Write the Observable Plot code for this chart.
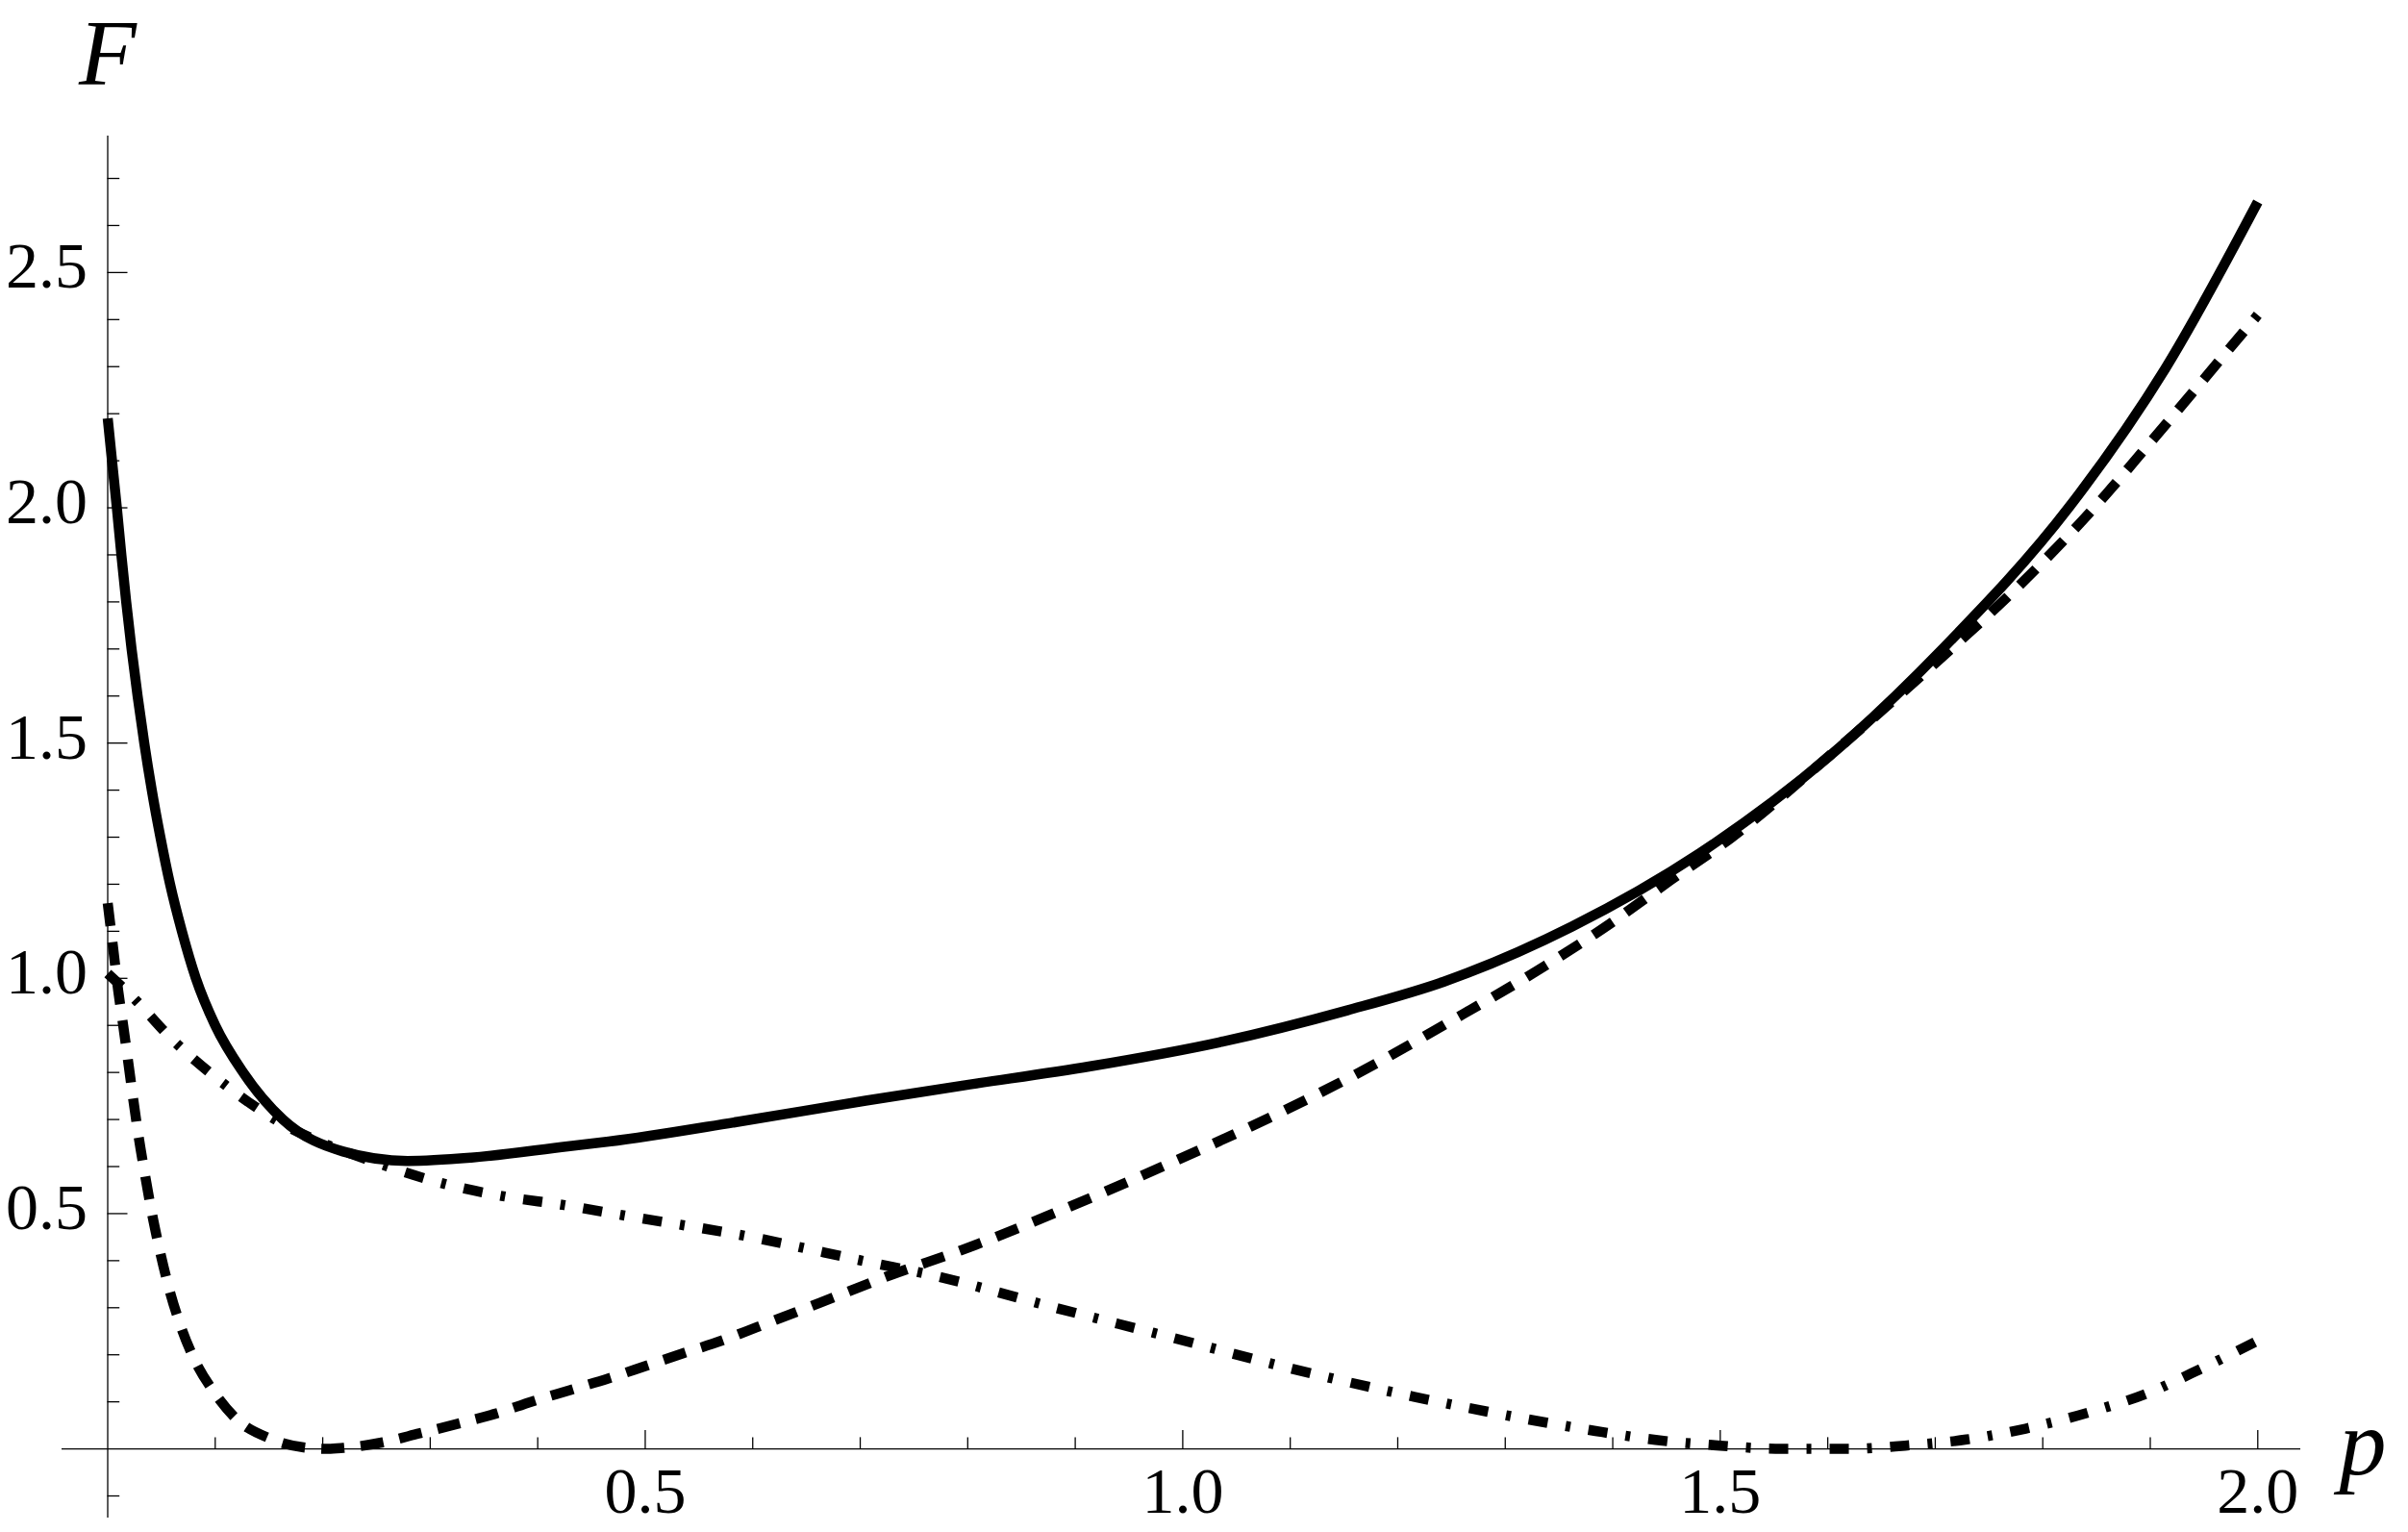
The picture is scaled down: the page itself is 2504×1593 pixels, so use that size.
<!DOCTYPE html>
<html>
<head>
<meta charset="utf-8">
<script src="https://cdn.jsdelivr.net/npm/d3@7"></script>
<script src="https://cdn.jsdelivr.net/npm/@observablehq/plot@0.6"></script>
<style>
  html, body { margin: 0; padding: 0; background: #fff; overflow: hidden; }
  #chart svg { display: block; }
</style>
</head>
<body>
<div id="chart"></div>
<script>
// ---- data ----
const solidP = [0, 0.004, 0.0085, 0.0127, 0.0172, 0.0222, 0.0278, 0.034, 0.041, 0.049, 0.058, 0.069, 0.082, 0.1, 0.126, 0.163, 0.219, 0.279, 0.338, 0.428, 0.466, 0.586, 0.705, 0.795, 0.914, 1.034, 1.153, 1.243, 1.362, 1.481, 1.601, 1.708, 1.825, 1.914, 2.0];
const solidF = [2.19, 2.10, 2.00, 1.90, 1.80, 1.70, 1.60, 1.50, 1.40, 1.30, 1.20, 1.10, 1.00, 0.90, 0.80, 0.70, 0.632, 0.612, 0.619, 0.643, 0.653, 0.695, 0.740, 0.772, 0.813, 0.864, 0.932, 0.993, 1.11, 1.266, 1.471, 1.703, 2.003, 2.296, 2.65];

const dashedP = [0, 0.005, 0.0097, 0.0147, 0.0192, 0.0238, 0.029, 0.0348, 0.0412, 0.0485, 0.0568, 0.0668, 0.08, 0.0985, 0.12, 0.151, 0.187, 0.205, 0.219, 0.256, 0.29, 0.325, 0.361, 0.395, 0.43, 0.466, 0.5, 0.535, 0.571, 0.603, 0.662, 0.729, 0.795, 0.893, 0.992, 1.089, 1.183, 1.244, 1.338, 1.398, 1.454, 1.511, 1.60, 1.70, 1.78, 1.854, 1.899, 2.0];
const dashedF = [1.16, 1.065, 0.975, 0.895, 0.82, 0.742, 0.66, 0.581, 0.50, 0.421, 0.343, 0.268, 0.193, 0.122, 0.063, 0.022, 0.002, 0.0, 0.002, 0.014, 0.033, 0.053, 0.075, 0.101, 0.125, 0.15, 0.176, 0.203, 0.23, 0.258, 0.31, 0.37, 0.423, 0.513, 0.611, 0.713, 0.823, 0.902, 1.028, 1.117, 1.209, 1.30, 1.47, 1.67, 1.839, 2.016, 2.136, 2.41];

const dashdotP = [0, 0.022, 0.061, 0.104, 0.15, 0.258, 0.312, 0.368, 0.425, 0.483, 0.597, 0.71, 0.765, 0.878, 0.991, 1.102, 1.215, 1.328, 1.384, 1.44, 1.50, 1.557, 1.62, 1.672, 1.729, 1.784, 1.842, 1.897, 1.947, 2.0];
const dashdotF = [1.01, 0.963, 0.868, 0.783, 0.708, 0.602, 0.564, 0.537, 0.518, 0.495, 0.451, 0.396, 0.37, 0.302, 0.236, 0.17, 0.111, 0.06, 0.038, 0.019, 0.007, 0.0, 0.0, 0.007, 0.02, 0.043, 0.077, 0.118, 0.17, 0.23];

const xMajorTicks = [0.5, 1.0, 1.5, 2.0];
const xMinorTicks = [0.1, 0.2, 0.3, 0.4, 0.6, 0.7, 0.8, 0.9, 1.1, 1.2, 1.3, 1.4, 1.6, 1.7, 1.8, 1.9];
const yMajorTicks = [0.5, 1.0, 1.5, 2.0, 2.5];
const yMinorTicks = [-0.1, 0.1, 0.2, 0.3, 0.4, 0.6, 0.7, 0.8, 0.9, 1.1, 1.2, 1.3, 1.4, 1.6, 1.7, 1.8, 1.9, 2.1, 2.2, 2.3, 2.4, 2.6, 2.7];
const xLabel = "p";
const yLabel = "F";

// ---- layout ----
const W = 2504, H = 1593;
const mL = 64, mR = 112, mT = 141, mB = 15;
const xDomain = [-0.0425, 2.04];
const yDomain = [-0.147, 2.79];
const xPx = (W - mL - mR) / (xDomain[1] - xDomain[0]);
const yPx = (H - mT - mB) / (yDomain[1] - yDomain[0]);

const zip = (P, F) => P.map((p, i) => ({p, F: F[i]}));
const solid = zip(solidP, solidF);
const dashed = zip(dashedP, dashedF);
const dashdot = zip(dashdotP, dashdotF);

const font = "Liberation Serif";
const axisW = 1.3;
const lineW = 10.5;

const chart = Plot.plot({
  width: W, height: H,
  marginLeft: mL, marginRight: mR, marginTop: mT, marginBottom: mB,
  x: {domain: xDomain, axis: null},
  y: {domain: yDomain, axis: null},
  style: {background: "#fff", overflow: "visible"},
  marks: [
    // axis lines through the origin
    Plot.ruleY([0], {stroke: "#000", strokeWidth: axisW}),
    Plot.ruleX([0], {stroke: "#000", strokeWidth: axisW}),
    // y ticks (pointing right)
    Plot.ruleY(yMajorTicks, {y: d => d, x1: 0, x2: 21 / xPx, stroke: "#000", strokeWidth: axisW}),
    Plot.ruleY(yMinorTicks, {y: d => d, x1: 0, x2: 12.7 / xPx, stroke: "#000", strokeWidth: axisW}),
    // x ticks (pointing up)
    Plot.ruleX(xMajorTicks, {x: d => d, y1: 0, y2: 19 / yPx, stroke: "#000", strokeWidth: axisW}),
    Plot.ruleX(xMinorTicks, {x: d => d, y1: 0, y2: 11.7 / yPx, stroke: "#000", strokeWidth: axisW}),
    // tick labels
    Plot.text(yMajorTicks, {x: 0, y: d => d, text: d => d.toFixed(1), textAnchor: "end", lineAnchor: "bottom", dx: -21, dy: 16, fontSize: 68, fontFamily: font, fill: "#000"}),
    Plot.text(xMajorTicks, {x: d => d, y: 0, text: d => d.toFixed(1), textAnchor: "middle", lineAnchor: "bottom", dy: 66, fontSize: 68, fontFamily: font, fill: "#000"}),
    // axis labels
    Plot.text([yLabel], {x: 0, frameAnchor: "top", text: d => d, textAnchor: "middle", lineAnchor: "bottom", dx: 0, dy: -54, fontSize: 98, fontStyle: "italic", fontFamily: font, fill: "#000"}),
    Plot.text([xLabel], {y: 0, frameAnchor: "right", text: d => d, textAnchor: "start", lineAnchor: "bottom", dx: 40, dy: 26, fontSize: 98, fontStyle: "italic", fontFamily: font, fill: "#000"}),
    // curves
    Plot.line(dashdot, {x: "p", y: "F", curve: "monotone-x", stroke: "#000", strokeWidth: lineW, strokeLinecap: "butt", strokeDasharray: "20,19,5,19"}),
    Plot.line(dashed, {x: "p", y: "F", curve: "monotone-x", stroke: "#000", strokeWidth: lineW, strokeLinecap: "butt", strokeDasharray: "24,17"}),
    Plot.line(solid, {x: "p", y: "F", curve: "monotone-x", stroke: "#000", strokeWidth: lineW, strokeLinecap: "butt"})
  ]
});
document.getElementById("chart").appendChild(chart);
</script>
</body>
</html>
